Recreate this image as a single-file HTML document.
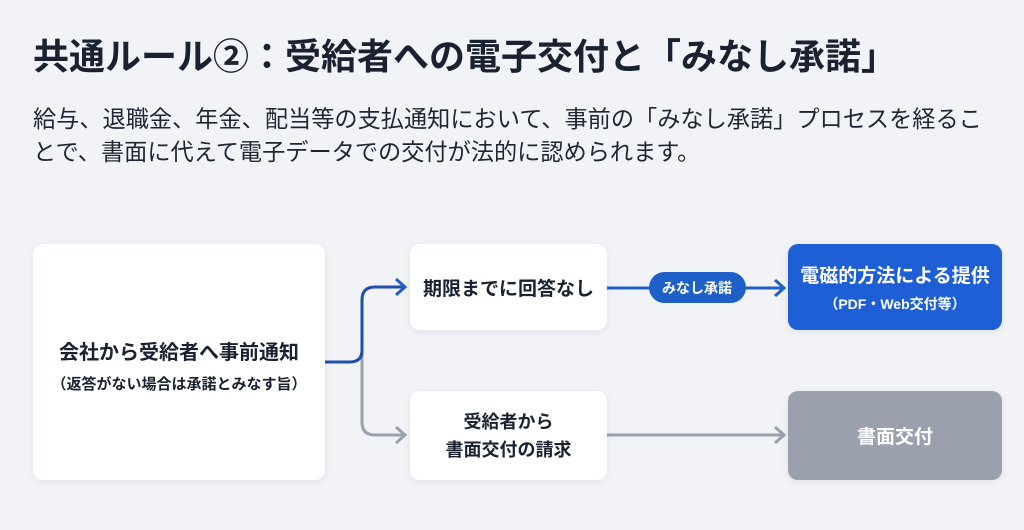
<!DOCTYPE html>
<html><head><meta charset="utf-8"><style>
body{margin:0;width:1024px;height:530px;background:#f1f3f7;font-family:"Liberation Sans","Noto Sans CJK JP",sans-serif;position:relative;overflow:hidden;color:#1a2130}
.t{position:absolute;left:33px;top:28px;font-size:36px;font-weight:bold;white-space:nowrap}
.p{position:absolute;left:33px;top:103px;font-size:23.2px;line-height:33px;white-space:nowrap;color:#1f2633}
.b{position:absolute;background:#fff;border-radius:10px;box-shadow:0 2px 8px rgba(30,40,70,.08);display:flex;flex-direction:column;align-items:center;justify-content:center;text-align:center;font-weight:bold;color:#1a2130}
</style></head><body>
<div class="t">共通ルール②：受給者への電子交付と「みなし承諾」</div>
<div class="p">給与、退職金、年金、配当等の支払通知において、事前の「みなし承諾」プロセスを経るこ<br>とで、書面に代えて電子データでの交付が法的に認められます。</div>
<svg width="1024" height="530" style="position:absolute;left:0;top:0">
<path d="M362 351 L362 422 Q362 435 375 435 L405 435" stroke="#9aa0ad" stroke-width="3" fill="none"/>
<path d="M396 427 L405 435 L396 443" stroke="#9aa0ad" stroke-width="3" fill="none"/>
<path d="M325 362 L350 362 Q362 362 362 350 L362 300 Q362 287 375 287 L405 287" stroke="#1f4fa8" stroke-width="3" fill="none"/>
<path d="M396 279 L405 287 L396 295" stroke="#1f5fc8" stroke-width="3" fill="none"/>
<path d="M607 288 L650 288 M745 288 L783 288" stroke="#1f5fc8" stroke-width="3" fill="none"/>
<path d="M775 280 L784 288 L775 296" stroke="#1f5fc8" stroke-width="3" fill="none"/>
<rect x="649" y="272" width="97" height="31" rx="15.5" fill="#1f5fc8"/>
<text x="697" y="293" text-anchor="middle" fill="#fff" font-size="14" font-weight="bold" font-family="Liberation Sans,Noto Sans CJK JP,sans-serif">みなし承諾</text>
<path d="M607 435 L783 435" stroke="#9aa0ad" stroke-width="3"/>
<path d="M775 427 L784 435 L775 443" stroke="#9aa0ad" stroke-width="3" fill="none"/>
</svg>
<div class="b" style="left:33px;top:244px;width:292px;height:236px"><div style="font-size:20px;margin-top:6px">会社から受給者へ事前通知</div><div style="font-size:15px;margin-top:8px">（返答がない場合は承諾とみなす旨）</div></div>
<div class="b" style="left:410px;top:244px;width:197px;height:86px;font-size:19px">期限までに回答なし</div>
<div class="b" style="left:410px;top:391px;width:197px;height:89px;font-size:18px;line-height:28px">受給者から<br>書面交付の請求</div>
<div class="b" style="left:788px;top:244px;width:214px;height:86px;background:#1f5fd6;color:#fff"><div style="font-size:19px">電磁的方法による提供</div><div style="font-size:14px;margin-top:6px">（PDF・Web交付等）</div></div>
<div class="b" style="left:788px;top:391px;width:214px;height:89px;background:#9aa0ad;color:#fff;font-size:19px">書面交付</div>
</body></html>
